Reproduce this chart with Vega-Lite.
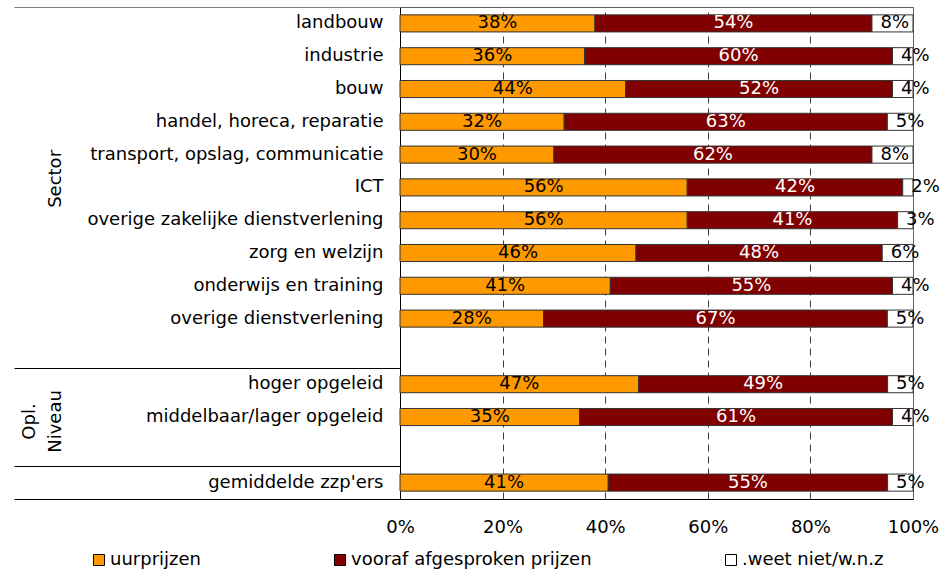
{
  "$schema": "https://vega.github.io/schema/vega-lite/v6.json",
  "width": 513,
  "height": 492,
  "autosize": {"type": "none"},
  "padding": {"left": 400, "top": 7, "right": 39, "bottom": 77},
  "background": "white",
  "config": {
    "font": "DejaVu Sans",
    "view": {"stroke": "#606060", "strokeWidth": 1},
    "axis": {"labelFont": "DejaVu Sans", "labelFontSize": 18, "labelColor": "black"},
    "legend": {"labelFont": "DejaVu Sans", "labelFontSize": 18, "labelColor": "black", "labelLimit": 400}
  },
  "data": {
    "values": [
      {"cat": "landbouw", "serie": "uurprijzen", "n": 1, "value": 0.38},
      {"cat": "landbouw", "serie": "vooraf afgesproken prijzen", "n": 2, "value": 0.54},
      {"cat": "landbouw", "serie": ".weet niet/w.n.z", "n": 3, "value": 0.08},
      {"cat": "industrie", "serie": "uurprijzen", "n": 1, "value": 0.36},
      {"cat": "industrie", "serie": "vooraf afgesproken prijzen", "n": 2, "value": 0.60},
      {"cat": "industrie", "serie": ".weet niet/w.n.z", "n": 3, "value": 0.04},
      {"cat": "bouw", "serie": "uurprijzen", "n": 1, "value": 0.44},
      {"cat": "bouw", "serie": "vooraf afgesproken prijzen", "n": 2, "value": 0.52},
      {"cat": "bouw", "serie": ".weet niet/w.n.z", "n": 3, "value": 0.04},
      {"cat": "handel, horeca, reparatie", "serie": "uurprijzen", "n": 1, "value": 0.32},
      {"cat": "handel, horeca, reparatie", "serie": "vooraf afgesproken prijzen", "n": 2, "value": 0.63},
      {"cat": "handel, horeca, reparatie", "serie": ".weet niet/w.n.z", "n": 3, "value": 0.05},
      {"cat": "transport, opslag, communicatie", "serie": "uurprijzen", "n": 1, "value": 0.30},
      {"cat": "transport, opslag, communicatie", "serie": "vooraf afgesproken prijzen", "n": 2, "value": 0.62},
      {"cat": "transport, opslag, communicatie", "serie": ".weet niet/w.n.z", "n": 3, "value": 0.08},
      {"cat": "ICT", "serie": "uurprijzen", "n": 1, "value": 0.56},
      {"cat": "ICT", "serie": "vooraf afgesproken prijzen", "n": 2, "value": 0.42},
      {"cat": "ICT", "serie": ".weet niet/w.n.z", "n": 3, "value": 0.02},
      {"cat": "overige zakelijke dienstverlening", "serie": "uurprijzen", "n": 1, "value": 0.56},
      {"cat": "overige zakelijke dienstverlening", "serie": "vooraf afgesproken prijzen", "n": 2, "value": 0.41},
      {"cat": "overige zakelijke dienstverlening", "serie": ".weet niet/w.n.z", "n": 3, "value": 0.03},
      {"cat": "zorg en welzijn", "serie": "uurprijzen", "n": 1, "value": 0.46},
      {"cat": "zorg en welzijn", "serie": "vooraf afgesproken prijzen", "n": 2, "value": 0.48},
      {"cat": "zorg en welzijn", "serie": ".weet niet/w.n.z", "n": 3, "value": 0.06},
      {"cat": "onderwijs en training", "serie": "uurprijzen", "n": 1, "value": 0.41},
      {"cat": "onderwijs en training", "serie": "vooraf afgesproken prijzen", "n": 2, "value": 0.55},
      {"cat": "onderwijs en training", "serie": ".weet niet/w.n.z", "n": 3, "value": 0.04},
      {"cat": "overige dienstverlening", "serie": "uurprijzen", "n": 1, "value": 0.28},
      {"cat": "overige dienstverlening", "serie": "vooraf afgesproken prijzen", "n": 2, "value": 0.67},
      {"cat": "overige dienstverlening", "serie": ".weet niet/w.n.z", "n": 3, "value": 0.05},
      {"cat": "hoger opgeleid", "serie": "uurprijzen", "n": 1, "value": 0.47},
      {"cat": "hoger opgeleid", "serie": "vooraf afgesproken prijzen", "n": 2, "value": 0.49},
      {"cat": "hoger opgeleid", "serie": ".weet niet/w.n.z", "n": 3, "value": 0.05},
      {"cat": "middelbaar/lager opgeleid", "serie": "uurprijzen", "n": 1, "value": 0.35},
      {"cat": "middelbaar/lager opgeleid", "serie": "vooraf afgesproken prijzen", "n": 2, "value": 0.61},
      {"cat": "middelbaar/lager opgeleid", "serie": ".weet niet/w.n.z", "n": 3, "value": 0.04},
      {"cat": "gemiddelde zzp'ers", "serie": "uurprijzen", "n": 1, "value": 0.41},
      {"cat": "gemiddelde zzp'ers", "serie": "vooraf afgesproken prijzen", "n": 2, "value": 0.55},
      {"cat": "gemiddelde zzp'ers", "serie": ".weet niet/w.n.z", "n": 3, "value": 0.05}
    ]
  },
  "transform": [
    {"stack": "value", "groupby": ["cat"], "sort": [{"field": "n", "order": "ascending"}], "offset": "normalize", "as": ["x0", "x1"]},
    {"calculate": "(datum.x0 + datum.x1) / 2", "as": "xmid"}
  ],
  "layer": [
    {
      "mark": {"type": "bar", "height": {"band": 0.52}, "stroke": "#333333", "strokeWidth": 1},
      "encoding": {
        "y": {
          "field": "cat", "type": "nominal",
          "scale": {"domain": ["landbouw", "industrie", "bouw", "handel, horeca, reparatie", "transport, opslag, communicatie", "ICT", "overige zakelijke dienstverlening", "zorg en welzijn", "onderwijs en training", "overige dienstverlening", " ", "hoger opgeleid", "middelbaar/lager opgeleid", "  ", "gemiddelde zzp'ers"], "paddingInner": 0, "paddingOuter": 0},
          "axis": {"title": null, "orient": "left", "ticks": false, "labelPadding": 17, "domain": true, "domainColor": "black", "domainWidth": 1, "grid": false, "labelLimit": 400}
        },
        "x": {
          "field": "x0", "type": "quantitative",
          "scale": {"domain": [0, 1], "nice": false, "zero": false},
          "axis": {"title": null, "orient": "bottom", "values": [0, 0.2, 0.4, 0.6, 0.8, 1], "format": ".0%", "ticks": false, "labelPadding": 19, "labelFlush": false, "domain": true, "domainColor": "black", "grid": true, "gridDash": [7, 5], "gridColor": "#404040", "gridOpacity": {"condition": {"test": "datum.value === 0 || datum.value === 1", "value": 0}, "value": 1}}
        },
        "x2": {"field": "x1"},
        "color": {
          "field": "serie", "type": "nominal",
          "scale": {"domain": ["uurprijzen", "vooraf afgesproken prijzen", ".weet niet/w.n.z"], "range": ["#FF9900", "#800000", "#FFFFFF"]},
          "legend": {"title": null, "orient": "none", "direction": "horizontal", "legendX": -310, "legendY": 544, "symbolType": "square", "symbolSize": 121, "symbolStrokeColor": "black", "symbolStrokeWidth": 1, "symbolOpacity": 1, "labelOffset": 2, "columnPadding": 130, "labelLimit": 400}
        }
      }
    },
    {
      "transform": [{"filter": "datum.n < 3"}],
      "mark": {"type": "text", "fontSize": 18, "baseline": "middle", "align": "center"},
      "encoding": {
        "y": {
          "field": "cat", "type": "nominal",
          "scale": {"domain": ["landbouw", "industrie", "bouw", "handel, horeca, reparatie", "transport, opslag, communicatie", "ICT", "overige zakelijke dienstverlening", "zorg en welzijn", "onderwijs en training", "overige dienstverlening", " ", "hoger opgeleid", "middelbaar/lager opgeleid", "  ", "gemiddelde zzp'ers"], "paddingInner": 0, "paddingOuter": 0},
          "axis": {
            "title": null, "orient": "left", "domain": false, "grid": false,
            "ticks": true, "tickBand": "extent", "tickSize": 386, "tickWidth": 1,
            "tickColor": {"condition": [{"test": "!isValid(datum.value)", "value": "#808080"}, {"test": "datum.value === ' ' || datum.value === '  ' || datum.value === \"gemiddelde zzp'ers\"", "value": "black"}], "value": "transparent"},
            "labelExpr": "datum.value === 'ICT' ? 'Sector' : (datum.value === 'middelbaar/lager opgeleid' ? ['Opl.', 'Niveau'] : '')",
            "labelAngle": -90, "labelAlign": "center", "labelBaseline": "bottom", "labelLineHeight": 26,
            "labelPadding": {"condition": {"test": "datum.value === 'middelbaar/lager opgeleid'", "value": -24}, "value": -50},
            "labelOffset": {"condition": {"test": "datum.value === 'ICT'", "value": -9}, "value": 4}
          }
        },
        "x": {"field": "xmid", "type": "quantitative", "scale": {"domain": [0, 1], "nice": false, "zero": false}, "axis": null},
        "text": {"field": "value", "type": "quantitative", "format": ".0%"},
        "color": {"condition": {"test": "datum.n === 2", "value": "white"}, "value": "black"}
      }
    },
    {
      "transform": [{"filter": "datum.n === 3"}],
      "mark": {"type": "text", "fontSize": 18, "baseline": "middle", "align": "left", "dx": 8.5, "color": "black"},
      "encoding": {
        "y": {
          "field": "cat", "type": "nominal",
          "scale": {"domain": ["landbouw", "industrie", "bouw", "handel, horeca, reparatie", "transport, opslag, communicatie", "ICT", "overige zakelijke dienstverlening", "zorg en welzijn", "onderwijs en training", "overige dienstverlening", " ", "hoger opgeleid", "middelbaar/lager opgeleid", "  ", "gemiddelde zzp'ers"], "paddingInner": 0, "paddingOuter": 0},
          "axis": null
        },
        "x": {"field": "x0", "type": "quantitative", "scale": {"domain": [0, 1], "nice": false, "zero": false}, "axis": null},
        "text": {"field": "value", "type": "quantitative", "format": ".0%"}
      }
    }
  ],
  "resolve": {"axis": {"x": "independent", "y": "independent"}}
}
